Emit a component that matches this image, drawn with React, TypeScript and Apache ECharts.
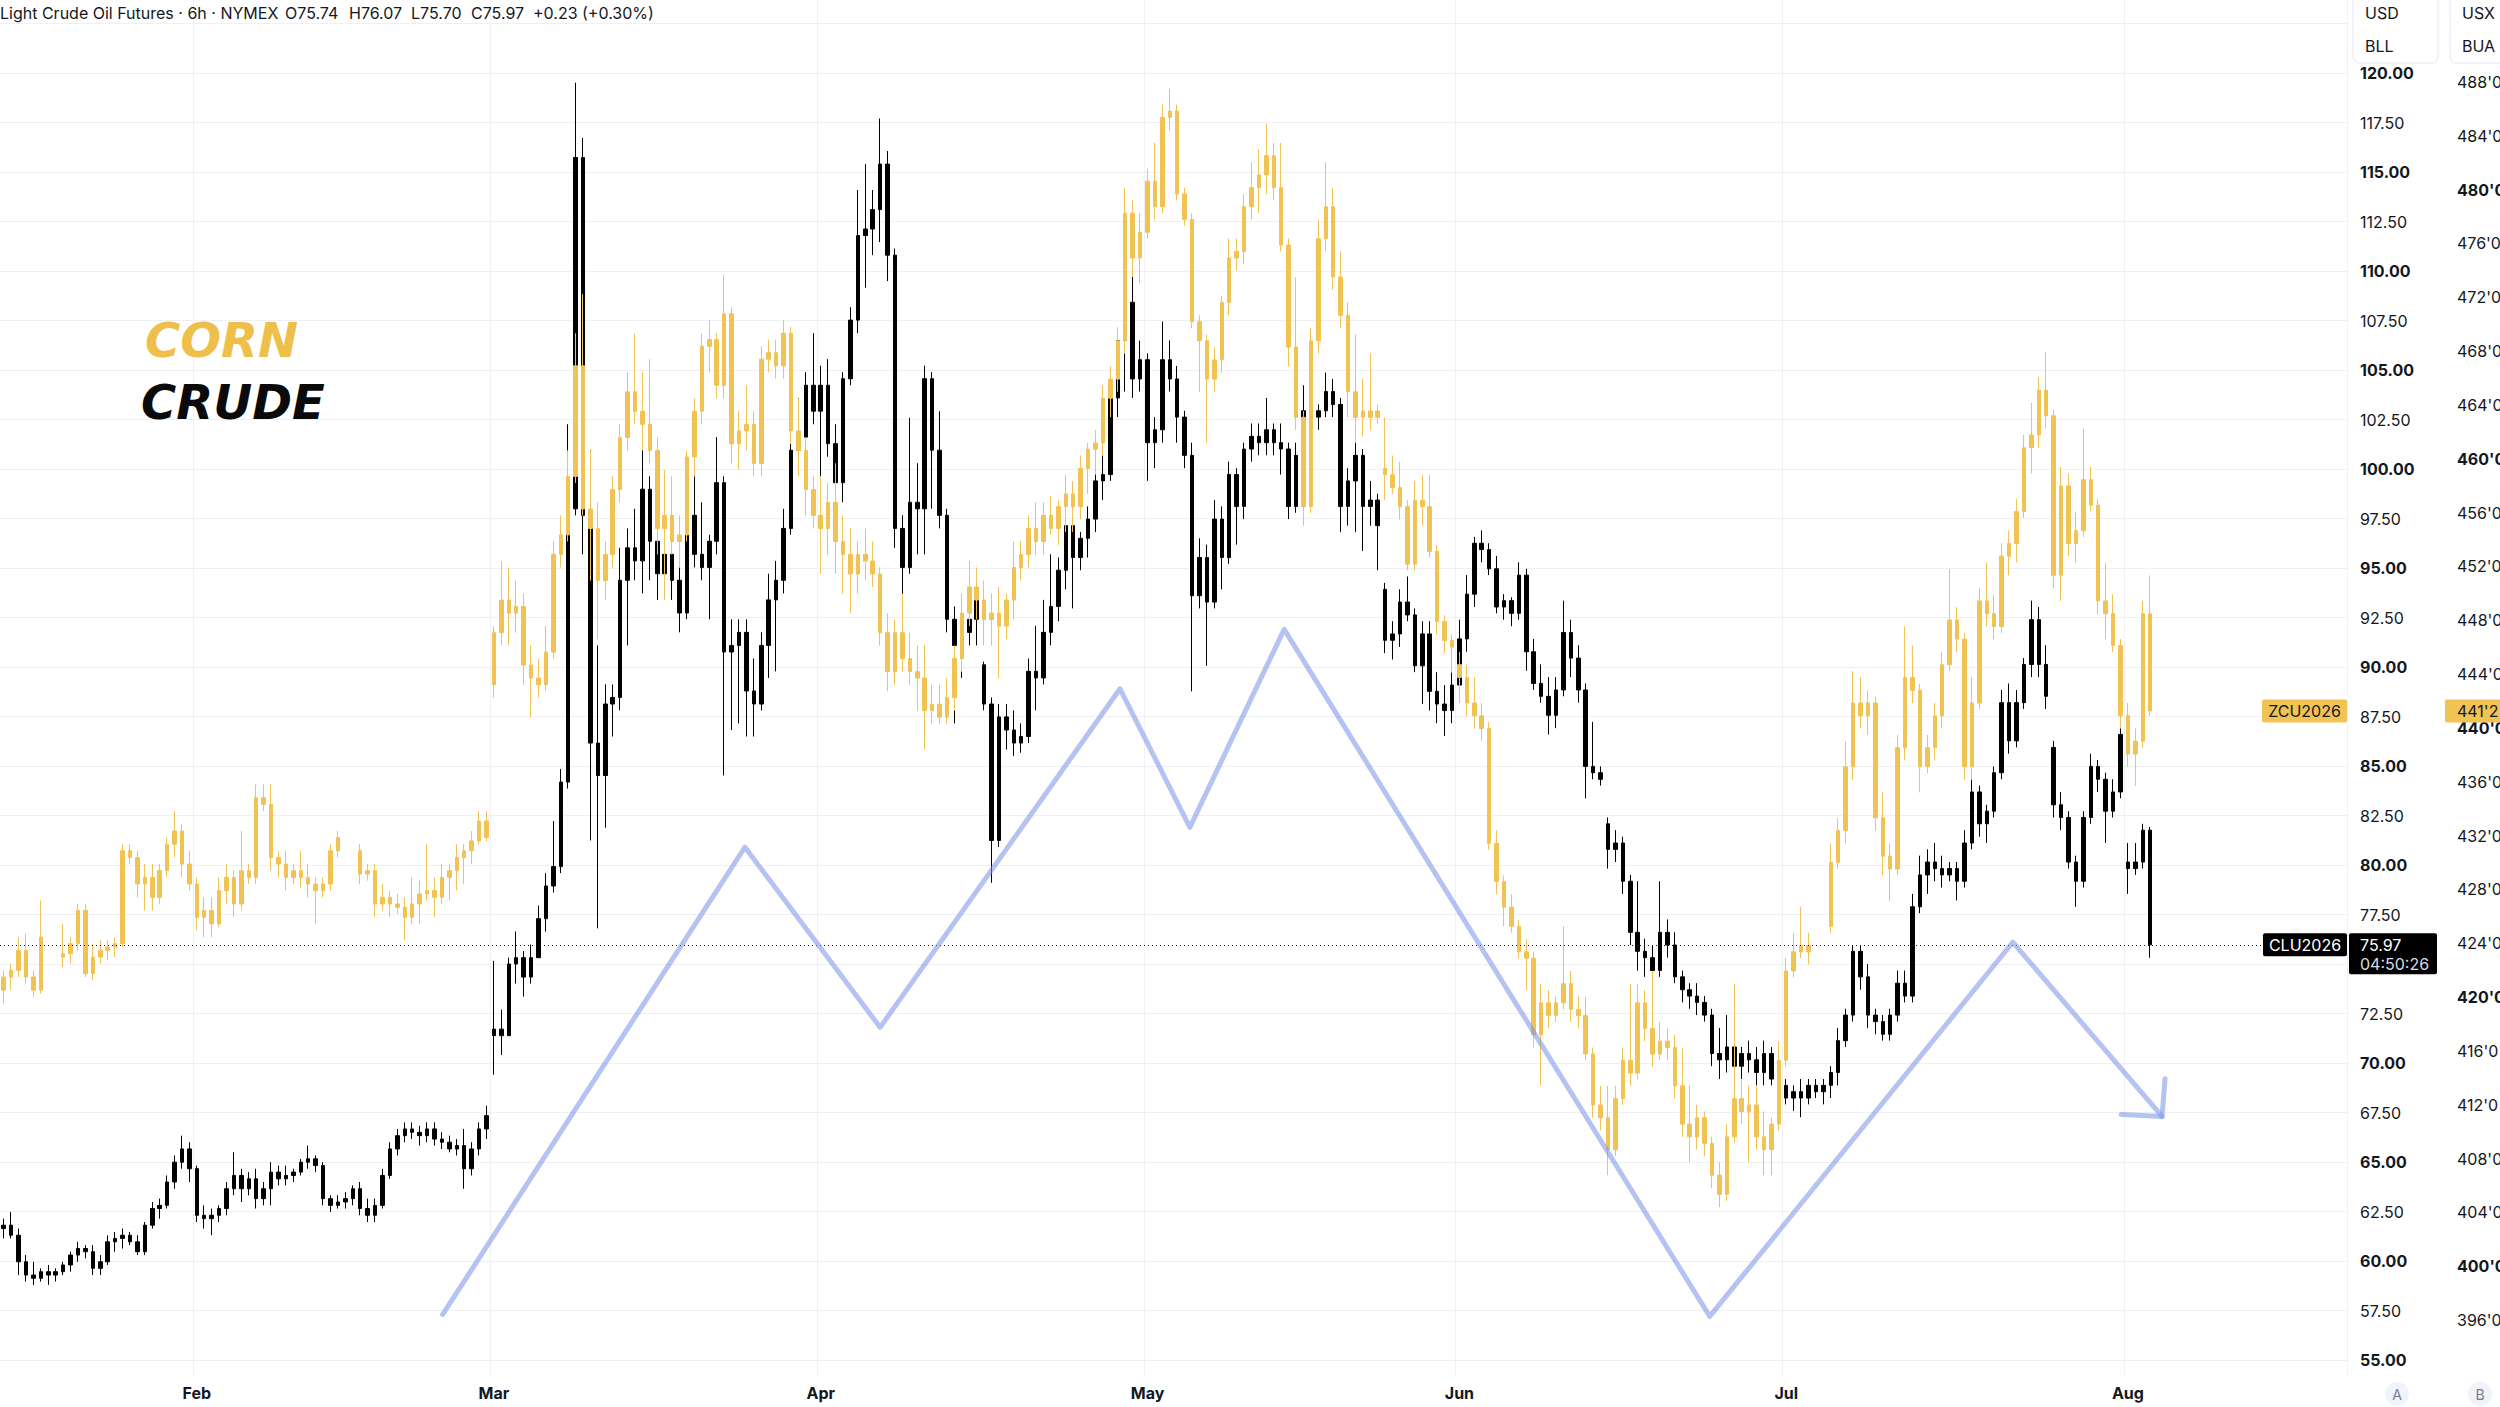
import React, { useEffect, useRef } from "react";
import * as echarts from "echarts";

// ---------- DATA (6h-ish candles, two per trading day: [open, close, low, high]) ----------
const crudeJan = [
  [61.64,61.81,61.14,62.14],[61.81,61.30,61.14,62.48],
  [61.30,59.96,59.29,61.64],[59.96,59.29,58.96,60.30],
  [59.29,59.13,58.79,59.96],[59.13,59.46,58.96,59.63],
  [59.46,59.29,58.79,59.80],[59.29,59.46,58.96,59.63],
  [59.46,59.80,59.29,59.96],[59.80,60.30,59.46,60.47],
  [60.30,60.63,59.96,60.97],[60.63,60.47,60.13,60.80],
  [60.47,59.63,59.29,60.80],[59.63,59.96,59.29,60.30],
  [59.96,60.97,59.80,61.30],[60.97,61.14,60.47,61.47],
  [61.14,61.30,60.63,61.64],[61.30,60.97,60.80,61.47],
  [60.97,60.47,60.30,61.30],[60.47,61.81,60.30,61.97],
  [61.81,62.65,61.64,62.98],[62.65,62.81,62.14,63.15],
  [62.81,63.99,62.65,64.32],[63.99,64.99,63.65,65.33],
  [64.99,65.66,64.66,66.33],[65.66,64.66,63.99,66.00]
];
const crudeFeb = [
  [64.66,62.31,61.97,64.82],[62.31,62.14,61.64,62.81],
  [62.14,62.31,61.30,62.65],[62.31,62.65,61.97,62.81],
  [62.65,63.65,62.31,63.99],[63.65,64.32,63.32,65.49],
  [64.32,63.65,62.98,64.66],[63.65,64.15,63.32,64.49],
  [64.15,63.15,62.65,64.66],[63.15,63.65,62.81,63.99],
  [63.65,64.49,62.81,64.99],[64.49,64.15,63.82,64.82],
  [64.15,64.32,63.82,64.82],[64.32,64.49,63.99,64.66],
  [64.49,64.99,64.32,65.16],[64.99,65.16,64.66,65.83],
  [65.16,64.82,64.49,65.33],[64.82,63.15,62.81,64.99],
  [63.15,62.81,62.48,63.32],[62.81,62.98,62.65,63.32],
  [62.98,63.15,62.65,63.48],[63.15,63.65,62.81,63.82],
  [63.65,62.65,62.31,63.99],[62.65,62.31,61.97,63.15],
  [62.31,62.81,61.97,63.15],[62.81,64.32,62.65,64.66],
  [64.32,65.66,64.15,66.00],[65.66,66.33,65.33,66.67],
  [66.33,66.67,66.00,67.00],[66.67,66.50,66.16,67.00],
  [66.50,66.33,65.83,66.83],[66.33,66.67,66.00,67.00],
  [66.67,66.16,65.83,67.00],[66.16,66.00,65.66,66.50],
  [66.00,65.66,65.49,66.33],[65.66,65.83,65.33,66.16],
  [65.83,64.66,63.65,66.67],[64.66,65.66,64.32,66.00],
  [65.66,66.67,65.33,67.00],[66.67,67.34,66.16,67.84]
];
const crudeMar = [
  [71.38,71.71,69.41,75.16],[71.71,71.38,70.40,72.70],
  [71.38,75.00,71.38,75.32],[75.00,75.32,74.01,76.64],
  [75.32,74.34,73.35,75.65],[74.34,75.32,74.01,75.98],
  [75.32,77.29,75.32,77.95],[77.29,78.94,76.64,79.59],
  [78.94,79.92,78.61,82.22],[79.92,84.19,79.59,84.85],
  [84.19,97.99,83.86,102.26],[97.99,115.73,97.66,119.51],
  [115.73,97.66,95.69,116.72],[97.66,86.16,81.24,100.95],
  [86.16,84.52,76.80,91.09],[84.52,88.13,81.89,89.12],
  [88.13,88.46,86.49,89.12],[88.46,94.38,87.81,96.02],
  [94.38,96.02,91.09,97.00],[96.02,95.36,94.38,97.99],
  [95.36,98.98,93.72,100.95],[98.98,96.35,94.38,99.63],
  [96.35,94.71,93.39,99.31],[94.71,95.69,93.39,97.00],
  [95.69,94.38,93.39,96.68],[94.38,92.73,91.75,95.03],
  [92.73,97.66,92.41,97.99],[97.66,95.69,95.03,99.63],
  [95.69,95.03,94.38,98.32],[95.03,96.35,92.41,96.68],
  [96.35,99.31,95.69,101.61],[99.31,90.76,84.52,99.63],
  [90.76,91.09,86.82,92.41],[91.09,91.75,87.15,92.41],
  [91.75,88.79,86.49,92.41],[88.79,88.13,86.49,90.43],
  [88.13,91.09,87.81,91.75],[91.09,93.39,89.45,94.71],
  [93.39,94.38,89.78,95.36],[94.38,97.00,93.72,97.99],
  [97.00,100.95,96.68,101.28],[100.95,101.61,100.29,103.58],
  [101.61,104.23,100.95,104.89],[104.23,102.92,102.26,106.86]
];
const crudeApr = [
  [102.92,104.23,99.63,105.22],[104.23,101.28,100.62,105.55],
  [101.28,99.31,97.66,102.26],[99.31,104.56,98.32,104.89],
  [104.56,107.52,104.23,108.17],[107.52,111.79,106.86,114.09],
  [111.79,112.12,109.16,115.40],[112.12,113.10,110.80,114.09],
  [113.10,115.40,111.46,117.70],[115.40,110.80,109.49,116.06],
  [110.80,97.00,96.02,111.13],[97.00,95.03,92.08,97.66],
  [95.03,98.32,94.71,102.59],[98.32,97.99,95.69,100.29],
  [97.99,104.56,95.69,105.22],[104.56,100.95,97.99,104.89],
  [100.95,97.66,97.00,102.92],[97.66,92.41,91.75,97.99],
  [92.41,91.09,87.15,93.06],[91.09,91.75,89.45,92.41],
  [91.75,92.41,91.09,93.06],[92.41,93.39,91.09,93.72],
  [90.11,88.13,87.81,90.27],[88.13,81.24,79.10,88.46],
  [81.24,87.48,80.91,88.13],[87.48,86.82,85.83,88.13],
  [86.82,86.16,85.51,87.81],[86.16,86.49,85.67,87.15],
  [86.49,89.78,86.16,90.43],[89.78,89.45,87.81,92.08],
  [89.45,91.75,89.12,93.39],[91.75,93.06,91.09,95.69],
  [93.06,94.89,92.31,95.53],[94.89,97.14,93.92,98.11],
  [97.14,95.53,92.96,98.11],[95.53,96.50,94.89,96.82],
  [96.50,97.47,95.53,98.11],[97.47,99.40,96.82,100.04],
  [99.40,99.72,98.43,100.69],[99.72,103.59,99.40,104.55],
  [103.59,106.49,102.62,107.13],[106.49,108.42,103.91,110.99],
  [108.42,104.55,103.59,109.71],[104.55,105.52,103.91,106.49]
];
const crudeMay = [
  [105.52,101.33,99.40,105.84],[101.33,101.98,100.04,102.62],
  [101.98,105.52,101.33,107.45],[105.52,104.55,103.91,106.49],
  [104.55,102.62,101.33,105.20],[102.62,100.69,100.04,102.94],
  [100.69,93.60,88.77,101.33],[93.60,95.53,92.96,96.50],
  [95.53,93.28,90.06,96.18],[93.28,97.47,92.96,98.43],
  [97.47,95.53,93.92,98.11],[95.53,99.72,95.21,100.37],
  [99.72,98.11,96.18,100.04],[98.11,101.01,97.47,101.33],
  [101.01,101.65,100.37,102.30],[101.65,101.33,100.69,102.30],
  [101.33,101.98,100.69,103.59],[101.98,101.33,100.69,102.30],
  [101.33,101.01,99.72,102.30],[101.01,98.11,97.47,101.33],
  [98.11,100.69,97.79,101.33],[100.69,102.94,100.04,104.23],
  [102.94,102.62,98.43,103.91],[102.62,102.94,101.98,103.26],
  [102.94,103.91,102.62,104.87],[103.91,103.26,102.62,104.55],
  [103.26,98.11,96.82,103.59],[98.11,99.40,97.14,100.04],
  [99.40,100.69,96.82,102.62],[100.69,98.11,95.86,101.01],
  [98.11,98.43,97.14,99.40],[98.43,97.14,94.89,98.75],
  [93.92,91.35,90.70,94.25],[91.35,91.67,90.38,92.31],
  [91.67,93.28,91.02,93.92],[93.28,92.63,92.31,94.57],
  [92.63,90.06,89.74,92.96],[90.06,91.67,88.13,92.31],
  [91.67,88.77,87.80,92.31],[88.77,88.13,87.16,89.74],
  [88.13,87.80,86.51,89.09],[87.80,89.09,87.16,90.06]
];
const crudeJun = [
  [89.09,91.42,88.20,92.39],[91.42,93.68,90.77,94.64],
  [93.68,96.25,93.03,96.57],[96.25,95.93,95.29,96.90],
  [95.93,94.96,94.64,96.25],[94.96,93.03,92.71,95.61],
  [93.03,93.35,92.39,93.68],[93.35,92.71,92.06,93.52],
  [92.71,94.64,92.39,95.29],[94.64,90.77,89.81,94.96],
  [90.77,89.17,88.84,91.42],[89.17,88.52,88.20,90.13],
  [88.52,87.56,86.59,89.49],[87.56,88.84,86.91,89.49],
  [88.84,91.74,88.52,93.35],[91.74,90.45,89.49,92.39],
  [90.45,88.84,88.20,91.10],[88.84,84.98,83.37,89.17],
  [84.98,84.66,84.33,87.23],[84.66,84.33,84.01,84.98],
  [82.08,80.79,79.82,82.40],[80.79,81.11,80.15,81.76],
  [81.11,79.18,78.54,81.43],[79.18,76.60,75.96,79.50],
  [76.60,75.64,74.67,79.18],[75.64,75.32,74.35,76.28],
  [75.32,74.67,73.70,75.96],[74.67,76.60,74.35,79.18],
  [76.60,75.96,75.32,77.25],[75.96,74.35,74.03,76.60],
  [74.35,73.70,73.06,74.67],[73.70,73.38,72.74,74.03],
  [73.38,73.06,72.42,74.03],[73.06,72.42,72.09,73.38],
  [72.42,70.48,69.84,72.74],[70.48,70.16,69.19,71.77],
  [70.16,70.81,69.52,72.42],[70.81,69.84,69.19,71.45],
  [69.84,70.48,69.19,70.81],[70.48,70.16,69.52,71.13],
  [70.16,69.52,68.87,70.81],[69.52,70.48,68.87,71.13],
  [70.48,69.19,68.87,70.81],[69.19,68.87,68.55,69.52]
];
const crudeJul = [
  [68.87,68.23,67.91,69.19],[68.23,68.55,67.58,68.87],
  [68.55,68.23,67.26,69.19],[68.23,68.87,67.91,69.19],
  [68.87,68.55,68.23,69.19],[68.55,68.87,67.91,69.19],
  [68.87,69.52,68.23,69.84],[69.52,71.13,68.87,71.77],
  [71.13,72.42,70.81,72.74],[72.42,75.64,72.09,75.96],
  [75.64,74.35,73.70,75.96],[74.35,72.42,71.77,74.99],
  [72.42,72.09,71.45,72.74],[72.09,71.45,71.13,72.42],
  [71.45,72.42,71.13,72.74],[72.42,74.03,72.09,74.67],
  [74.03,73.38,73.06,74.67],[73.38,77.89,73.06,78.54],
  [77.89,79.50,77.57,80.47],[79.50,80.15,78.54,80.79],
  [80.15,79.82,79.18,81.11],[79.82,79.50,78.86,80.47],
  [79.50,79.82,79.18,80.15],[79.82,79.18,78.21,80.15],
  [79.18,81.11,78.86,81.76],[81.11,83.69,80.79,84.33],
  [83.69,82.08,81.43,84.01],[82.08,82.72,81.11,83.04],
  [82.72,84.66,82.40,84.98],[84.66,88.20,84.33,88.84],
  [88.20,86.27,85.62,89.17],[86.27,88.20,85.94,88.84],
  [88.20,90.13,87.88,90.45],[90.13,92.39,89.49,93.35],
  [92.39,90.13,89.49,93.03],[90.13,88.52,87.88,91.10],
  [85.94,83.04,82.40,86.27],[83.04,82.40,81.76,83.69],
  [82.40,80.15,79.82,82.72],[80.15,79.18,77.89,80.47],
  [79.18,82.40,78.86,82.72],[82.40,84.98,82.08,85.62],
  [84.98,84.33,83.69,85.30],[84.33,82.72,81.11,84.66],
  [82.72,83.69,82.40,84.33],[83.69,86.59,83.37,86.91]
];
const crudeAug = [
  [80.15,79.82,78.54,81.11],[79.82,80.15,79.50,81.11],
  [80.15,81.76,79.82,82.08],[81.76,75.97,75.32,81.92]
];

const NA = ["-", "-", "-", "-"];
const cornJan = [
  [420.51,421.49,419.52,421.99],[421.49,421.99,420.51,422.48],
  [421.99,423.47,421.49,424.45],[423.47,421.49,421.00,424.70],
  [421.49,420.51,420.02,421.99],[420.51,424.45,420.26,427.17],
  NA, NA,
  [422.97,423.22,422.23,425.44],[423.22,423.96,422.48,424.45],
  [423.96,426.43,423.47,426.92],[426.43,421.74,421.49,426.92],
  [421.74,422.97,421.25,423.96],[422.97,423.47,422.48,424.21],
  [423.47,423.71,422.73,424.21],[423.71,423.96,422.97,424.45],
  [423.96,430.87,423.71,431.36],[430.87,430.37,429.88,431.36],
  [430.37,428.40,427.41,430.87],[428.40,428.89,426.43,429.88],
  [428.89,427.41,426.43,429.88],[427.41,429.39,426.92,429.88],
  [429.39,431.36,428.89,431.85],[431.36,432.34,430.37,433.82],
  [432.34,429.88,428.89,432.84],[429.88,428.40,427.91,430.87]
];
const cornFeb = [
  [428.40,425.93,424.95,428.89],[425.93,426.43,424.45,427.41],
  [426.43,425.44,424.45,427.41],[425.44,427.91,425.19,428.89],
  [427.91,428.89,426.92,429.88],[428.89,426.92,425.93,429.39],
  [426.92,429.39,426.43,432.34],[429.39,428.89,428.40,429.88],
  [428.89,434.81,428.40,435.80],[434.81,434.32,433.82,435.80],
  [434.32,430.37,429.39,435.80],[430.37,429.88,428.89,430.87],
  [429.88,428.89,427.91,430.87],[428.89,429.39,428.40,429.88],
  [429.39,428.89,428.15,430.87],[428.89,428.40,427.41,429.88],
  [428.40,427.91,425.44,428.89],[427.91,428.40,427.41,428.89],
  [428.40,430.87,427.91,431.36],[430.87,431.85,430.37,432.34],
  NA, NA,
  [430.87,429.14,428.40,431.36],[429.14,429.39,428.65,429.88],
  [429.39,426.92,425.93,429.88],[426.92,427.41,426.43,428.40],
  [427.41,426.92,425.93,427.91],[426.92,426.67,426.18,427.66],
  [426.67,425.93,424.21,427.41],[425.93,426.92,425.44,428.89],
  [426.92,427.66,425.44,428.65],[427.66,427.91,427.17,431.36],
  [427.91,427.41,425.93,428.89],[427.41,428.89,426.92,429.88],
  [428.89,429.39,427.17,429.88],[429.39,430.37,427.91,431.36],
  [430.37,430.87,428.40,431.36],[430.87,431.60,429.88,432.34],
  [431.60,433.08,431.36,433.82],[433.08,431.85,431.60,433.82]
];
const cornMar = [
  [443.21,447.08,442.25,447.57],[447.08,449.50,446.12,452.40],
  [449.50,448.53,446.12,451.92],[448.53,449.02,447.08,450.95],
  [449.02,444.67,443.21,449.98],[444.67,443.70,440.80,446.12],
  [443.70,443.21,442.25,445.15],[443.21,445.63,442.73,447.57],
  [445.63,452.89,445.15,453.85],[452.89,454.34,451.92,455.79],
  [454.34,458.69,453.85,460.62],[458.69,466.91,458.21,469.33],
  [466.91,456.27,455.79,472.23],[456.27,454.82,450.95,460.62],
  [454.82,450.95,446.60,456.76],[450.95,452.89,449.50,453.85],
  [452.89,457.72,451.92,458.69],[457.72,461.59,456.76,462.56],
  [461.59,464.98,460.62,466.43],[464.98,463.53,462.56,469.33],
  [463.53,462.56,460.62,466.43],[462.56,460.62,459.66,467.40],
  [460.62,454.82,452.89,461.59],[454.82,455.79,449.50,459.17],
  [455.79,453.85,452.89,458.69],[453.85,454.34,451.92,455.79],
  [454.34,460.14,453.85,460.62],[460.14,463.53,458.69,464.49],
  [463.53,468.36,462.56,469.33],[468.36,468.85,466.43,470.30],
  [468.85,465.46,464.49,469.33],[465.46,470.78,464.49,473.68],
  [470.78,461.11,459.66,471.26],[461.11,462.07,459.17,463.53],
  [462.07,462.56,460.62,465.46],[462.56,459.66,458.69,463.53],
  [459.66,467.40,458.69,468.36],[467.40,467.88,466.43,468.85],
  [467.88,466.91,465.94,468.85],[466.91,469.33,465.94,470.30],
  [469.33,462.07,461.11,469.81],[462.07,460.62,458.69,464.49],
  [460.62,457.72,455.79,461.59],[457.72,455.79,454.82,458.69]
];
const cornApr = [
  [455.79,454.82,451.44,458.69],[454.82,456.76,452.89,458.21],
  [456.76,453.85,451.44,459.66],[453.85,452.89,449.98,455.79],
  [452.89,451.44,448.53,454.82],[451.44,452.89,449.98,453.85],
  [452.89,452.40,450.95,454.82],[452.40,451.44,450.47,453.85],
  [451.44,447.08,446.12,451.92],[447.08,444.18,442.73,448.53],
  [444.18,447.08,443.21,448.05],[447.08,445.15,444.18,449.98],
  [445.15,444.18,443.21,447.08],[444.18,443.70,441.28,446.12],
  [443.70,441.28,438.38,446.12],[441.28,441.76,440.31,443.21],
  [441.76,440.80,440.31,443.21],[440.80,442.25,440.31,443.70],
  [442.25,445.15,441.28,446.12],[445.15,448.53,444.18,449.98],
  [448.53,450.47,447.57,452.40],[450.47,449.50,448.05,451.92],
  [449.50,448.05,446.12,450.95],[448.05,448.53,446.12,449.98],
  [448.53,447.57,443.70,450.47],[447.57,449.50,446.60,449.98],
  [449.50,451.92,448.05,453.85],[451.92,452.89,450.95,453.85],
  [452.89,454.82,451.92,455.79],[454.82,453.85,452.89,456.76],
  [453.85,455.79,452.89,456.76],[455.79,454.82,454.34,457.24],
  [454.82,456.44,453.60,456.92],[456.44,457.39,454.55,458.81],
  [457.39,456.44,454.55,458.34],[456.44,459.29,455.49,460.24],
  [459.29,460.71,457.39,461.18],[460.71,461.18,458.81,462.13],
  [461.18,464.50,460.24,465.45],[464.50,465.92,463.08,466.87],
  [465.92,468.77,464.98,469.72],[468.77,478.25,467.82,480.15],
  [478.25,474.93,473.51,479.20],[474.93,476.83,473.04,478.25]
];
const cornMay = [
  [476.83,480.63,476.36,481.57],[480.63,478.73,477.78,483.47],
  [478.73,485.37,478.25,486.32],[485.37,485.84,484.42,487.50],
  [485.84,479.68,479.20,486.32],[479.68,477.78,477.31,480.15],
  [477.78,470.19,469.72,478.25],[470.19,468.77,464.98,470.67],
  [468.77,465.92,461.18,469.24],[465.92,467.35,464.98,468.30],
  [467.35,471.62,466.40,472.09],[471.62,474.93,470.67,476.36],
  [474.93,475.41,473.99,476.36],[475.41,478.73,474.46,479.68],
  [478.73,480.15,477.78,482.05],[480.15,481.10,478.25,483.00],
  [481.10,482.52,479.68,484.89],[482.52,480.15,479.20,483.47],
  [480.15,475.88,475.41,483.47],[475.88,468.30,466.87,476.36],
  [468.30,463.08,462.13,473.51],[463.08,456.44,455.02,463.55],
  [456.44,468.77,455.97,469.72],[468.77,476.36,467.82,477.78],
  [476.36,478.73,475.41,482.05],[478.73,473.51,472.56,480.15],
  [473.51,470.67,469.72,475.41],[470.67,464.98,463.08,471.62],
  [464.98,463.08,461.18,469.24],[463.08,463.55,461.66,465.92],
  [463.55,463.08,462.13,467.82],[463.08,463.55,462.61,464.03],
  [459.29,458.81,456.92,463.08],[458.81,457.86,457.39,460.24],
  [457.86,456.44,455.49,459.76],[456.44,452.17,451.70,456.92],
  [452.17,456.92,451.70,458.34],[456.92,456.44,455.02,458.81],
  [456.44,453.12,452.65,458.81],[453.12,447.91,446.96,453.60],
  [447.91,446.49,445.54,448.38],[446.49,446.01,444.11,446.96]
];
const cornJun = [
  [444.70,443.75,441.85,445.65],[443.75,441.85,440.90,444.70],
  [441.85,440.90,439.96,443.75],[440.90,439.96,439.01,441.85],
  [439.96,431.42,430.95,440.43],[431.42,428.58,427.63,432.37],
  [428.58,426.68,425.26,429.05],[426.68,425.26,424.78,427.63],
  [425.26,423.36,422.89,425.73],[423.36,422.89,420.51,424.31],
  [422.89,417.20,416.25,423.36],[417.20,419.57,413.40,420.99],
  [419.57,418.62,417.67,420.51],[418.62,419.57,418.14,420.04],
  [419.57,420.99,419.09,425.26],[420.99,419.09,418.14,421.94],
  [419.09,418.62,417.67,420.04],[418.62,415.77,415.30,420.04],
  [415.77,411.98,411.03,416.25],[411.98,411.03,410.08,413.40],
  [411.03,408.66,406.76,413.40],[408.66,412.45,408.18,413.40],
  [412.45,415.30,411.98,416.25],[415.30,414.35,413.40,420.99],
  [414.35,419.57,413.87,420.99],[419.57,417.67,416.72,420.51],
  [417.67,415.77,414.82,421.94],[415.77,416.72,415.30,418.14],
  [416.72,416.25,415.30,417.67],[416.25,413.40,412.45,417.20],
  [413.40,410.56,409.61,416.25],[410.56,409.61,407.71,413.40],
  [409.61,411.03,408.66,411.98],[411.03,409.13,408.18,411.50],
  [409.13,406.76,405.81,409.61],[406.76,405.34,404.39,407.71],
  [405.34,409.61,404.86,410.56],[409.61,412.45,409.13,420.99],
  [412.45,411.50,410.56,413.87],[411.50,411.98,407.71,413.40],
  [411.98,409.61,408.66,413.40],[409.61,408.66,406.76,411.50],
  [408.66,410.56,406.76,411.03],[410.56,415.30,410.08,416.72]
];
const cornJul = [
  [415.30,421.94,414.82,422.89],[421.94,423.36,421.46,424.78],
  [423.36,423.83,422.89,426.68],[423.83,423.36,422.41,424.78],
  NA, NA,
  [425.26,430.00,424.78,431.42],[430.00,432.37,429.52,433.32],
  [432.37,437.11,431.42,439.01],[437.11,441.85,436.16,444.22],
  [441.85,440.90,439.96,443.75],[440.90,441.85,439.48,442.80],
  [441.85,433.32,432.37,442.33],[433.32,430.47,429.05,435.21],
  [430.47,429.52,427.15,431.42],[429.52,438.53,429.05,439.48],
  [438.53,443.75,437.59,447.54],[443.75,442.80,441.85,446.12],
  [442.80,437.11,435.21,443.28],[437.11,438.53,436.64,439.48],
  [438.53,440.90,437.59,441.85],[440.90,444.70,439.96,445.65],
  [444.70,448.02,444.22,451.81],[448.02,446.60,445.65,448.97],
  [446.60,437.11,436.16,447.07],[437.11,441.85,436.16,443.75],
  [441.85,449.44,441.38,450.39],[449.44,448.49,447.54,452.29],
  [448.49,447.54,446.60,449.91],[447.54,452.76,447.07,453.71],
  [452.76,453.71,451.34,454.66],[453.71,456.08,452.29,457.03],
  [456.08,460.82,455.60,461.77],[460.82,461.77,458.92,464.14],
  [461.77,465.09,460.82,466.04],[465.09,463.19,462.24,467.93],
  [463.19,451.34,450.39,463.67],[451.34,457.98,449.44,459.40],
  [457.98,453.71,452.76,458.92],[453.71,454.66,452.29,456.08],
  [454.66,458.45,454.18,462.24],[458.45,456.55,456.08,459.40],
  [456.55,449.44,448.49,457.03],[449.44,448.49,446.60,452.29],
  [448.49,446.12,445.65,449.91],[446.12,440.90,439.96,446.60]
];
const cornAug = [
  [440.90,438.06,437.11,441.85],[438.06,439.01,435.69,439.96],
  [439.01,448.49,438.53,449.44],[448.49,441.25,440.90,451.34]
];

// Hand-drawn zigzag annotation: [slot position, crude price]
const zigzagPoints = [
  [59.6, 57.3], [100.3, 80.9], [118.5, 71.8], [150.8, 88.9], [160.2, 81.9],
  [172.9, 91.9], [230.2, 57.2], [271.0, 76.1], [291.1, 67.3]
];
const arrowHeadPoints = [[291.5, 69.2], [291.1, 67.3], [285.6, 67.4]];

const crudeAxis = { min: 55, max: 122.5, step: 2.5 };
const cornAxis = { min: 396, max: 488, step: 4 };
const crudeLast = 75.97;
const cornLast = 441.25;
const cornLastLabel = "441'2";
const countdown = "04:50:26";
const headerParts = [
  { text: "Light Crude Oil Futures · 6h · NYMEX", x: 0 },
  { text: "O75.74", x: 285 },
  { text: "H76.07", x: 349 },
  { text: "L75.70", x: 411 },
  { text: "C75.97", x: 471 },
  { text: "+0.23 (+0.30%)", x: 533 }
];
const MONTHS = ["Jan", "Feb", "Mar", "Apr", "May", "Jun", "Jul", "Aug", "Sep", "Oct", "Nov", "Dec"];
const FIRST_DAY = Date.UTC(2026, 0, 14);
const SLOT_DAYS = 158; // trading days shown incl. blank space on the right

// ---------- layout ----------
const CHART_W = 2520;
const CHART_H = 1407;
const PLOT_W = 2347;
const FONT = 'Inter, "Noto Sans", Roboto, sans-serif';
const GOLD = "#F0C352";
const INK = "#131722";

function buildSlots() {
  const cats: string[] = [];
  const labels: Record<number, string> = {};
  let t = FIRST_DAY;
  let prevMonth = -1;
  let day = 0;
  while (day < SLOT_DAYS) {
    const d = new Date(t);
    const wd = d.getUTCDay();
    if (wd !== 0 && wd !== 6) {
      const iso = d.toISOString().slice(0, 10);
      const m = d.getUTCMonth();
      if (prevMonth !== -1 && m !== prevMonth) labels[cats.length] = MONTHS[m];
      prevMonth = m;
      cats.push(iso + " A", iso + " B");
      day++;
    }
    t += 86400000;
  }
  return { cats, labels };
}

export default function App() {
  const ref = useRef<HTMLDivElement>(null);
  useEffect(() => {
    if (!ref.current) return;
    const chart = echarts.init(ref.current, undefined, { renderer: "svg" });
    const { cats, labels } = buildSlots();
    const crude = [...crudeJan, ...crudeFeb, ...crudeMar, ...crudeApr, ...crudeMay, ...crudeJun, ...crudeJul, ...crudeAug];
    const corn = [...cornJan, ...cornFeb, ...cornMar, ...cornApr, ...cornMay, ...cornJun, ...cornJul, ...cornAug];
    const isLabel = (i: number) => labels[i] !== undefined;
    const labelStyle = { fontFamily: FONT, fontSize: 16, color: INK };

    const crudeTop = 73 - 49.5; // 122.5 line
    const crudeH = 1360 - crudeTop;
    const cornTop = 82;
    const cornH = 1320 - 82;

    chart.setOption({
      animation: false,
      backgroundColor: "#ffffff",
      grid: [
        { left: 0, top: 0, width: PLOT_W, height: 1375 },
        { left: 0, top: crudeTop, width: PLOT_W, height: crudeH },
        { left: 0, top: cornTop, width: PLOT_W, height: cornH }
      ],
      xAxis: [
        {
          type: "category", gridIndex: 0, data: cats, boundaryGap: true,
          axisLine: { show: false }, axisTick: { show: false },
          axisLabel: {
            interval: (i: number) => isLabel(i),
            formatter: (_v: string, i: number) => labels[i] || "",
            margin: 10, fontFamily: FONT, fontSize: 16, fontWeight: "bold", color: INK
          },
          splitLine: { show: true, interval: (i: number) => isLabel(i), lineStyle: { color: "#eff1f5", width: 1 } }
        },
        { type: "category", gridIndex: 1, data: cats, boundaryGap: true, show: false },
        { type: "category", gridIndex: 2, data: cats, boundaryGap: true, show: false },
        { type: "value", gridIndex: 1, min: 0, max: cats.length, show: false }
      ],
      yAxis: [
        { type: "value", gridIndex: 0, min: 0, max: 1, show: false },
        {
          type: "value", gridIndex: 1, position: "right", min: crudeAxis.min, max: crudeAxis.max, interval: crudeAxis.step,
          axisLine: { show: false }, axisTick: { show: false },
          splitLine: { show: true, lineStyle: { color: "#eef0f4", width: 1 } },
          axisLabel: {
            margin: 13, align: "left", showMaxLabel: false,
            formatter: (v: number) => {
              // the label hidden under the last-price badge
              if (Math.abs(v - crudeLast) < 1.2) return "";
              const s = v.toFixed(2);
              return Math.round(v * 100) % 500 === 0 ? "{b|" + s + "}" : "{r|" + s + "}";
            },
            rich: { b: { ...labelStyle, fontWeight: "bold" }, r: { ...labelStyle } }
          }
        },
        {
          type: "value", gridIndex: 2, position: "right", offset: 97, min: cornAxis.min, max: cornAxis.max, interval: cornAxis.step,
          axisLine: { show: false }, axisTick: { show: false }, splitLine: { show: false },
          axisLabel: {
            margin: 13, align: "left",
            formatter: (v: number) => (v % 20 === 0 ? "{b|" + v + "'0}" : "{r|" + v + "'0}"),
            rich: { b: { ...labelStyle, fontWeight: "bold" }, r: { ...labelStyle } }
          }
        }
      ],
      series: [
        {
          type: "candlestick", name: "CLU2026", xAxisIndex: 1, yAxisIndex: 1, data: crude, barWidth: 4, z: 2,
          itemStyle: { color: "#000", color0: "#000", borderColor: "#000", borderColor0: "#000", borderWidth: 1 },
          markLine: {
            silent: true, symbol: ["none", "none"], label: { show: false },
            lineStyle: { color: INK, type: [1, 3], width: 1 },
            data: [{ yAxis: crudeLast }]
          }
        },
        {
          type: "candlestick", name: "ZCU2026", xAxisIndex: 2, yAxisIndex: 2, data: corn, barWidth: 4, z: 3,
          itemStyle: { color: GOLD, color0: GOLD, borderColor: GOLD, borderColor0: GOLD, borderWidth: 1 }
        },
        {
          type: "line", xAxisIndex: 3, yAxisIndex: 1, data: zigzagPoints, showSymbol: false, z: 5, silent: true,
          lineStyle: { color: "rgba(120,145,232,0.55)", width: 5, cap: "round", join: "round" }
        },
        {
          type: "line", xAxisIndex: 3, yAxisIndex: 1, data: arrowHeadPoints, showSymbol: false, z: 5, silent: true,
          lineStyle: { color: "rgba(120,145,232,0.55)", width: 5, cap: "round", join: "round" }
        }
      ]
    });

    const yCrude = chart.convertToPixel({ yAxisIndex: 1 }, crudeLast) as number;
    const yCorn = chart.convertToPixel({ yAxisIndex: 2 }, cornLast) as number;
    const txt = (x: number, y: number, text: string, extra: any = {}) => ({
      type: "text", x, y, z: 100,
      style: { text, fill: INK, fontFamily: FONT, fontSize: 16, align: "left", verticalAlign: "middle", ...extra }
    });

    const graphic: any[] = [];
    headerParts.forEach((p) => graphic.push(txt(p.x, 13, p.text)));
    graphic.push(txt(145, 340, "CORN", { fill: "#EEBF4B", fontFamily: '"DejaVu Sans", sans-serif', fontSize: 48, fontWeight: "bold", fontStyle: "italic" }));
    graphic.push(txt(141, 402, "CRUDE", { fill: "#0a0a0a", fontFamily: '"DejaVu Sans", sans-serif', fontSize: 48, fontWeight: "bold", fontStyle: "italic" }));
    // corn badges
    graphic.push({ type: "rect", z: 100, shape: { x: 2262, y: yCorn - 11.5, width: 85, height: 23, r: 2 }, style: { fill: GOLD } });
    graphic.push(txt(2304.5, yCorn, "ZCU2026", { align: "center" }));
    graphic.push({ type: "rect", z: 100, shape: { x: 2445, y: yCorn - 11.5, width: 80, height: 23, r: 2 }, style: { fill: GOLD } });
    graphic.push(txt(2457, yCorn, cornLastLabel));
    // crude badges
    graphic.push({ type: "rect", z: 100, shape: { x: 2263, y: yCrude - 11.5, width: 84, height: 23, r: 2 }, style: { fill: "#000" } });
    graphic.push(txt(2305, yCrude, "CLU2026", { align: "center", fill: "#fff" }));
    graphic.push({ type: "rect", z: 100, shape: { x: 2349, y: yCrude - 11.5, width: 88, height: 41, r: 2 }, style: { fill: "#000" } });
    graphic.push(txt(2360, yCrude, crudeLast.toFixed(2), { fill: "#fff" }));
    graphic.push(txt(2360, yCrude + 19, countdown, { fill: "#d8dbe2" }));
    // currency / unit boxes
    graphic.push({ type: "rect", z: 100, shape: { x: 2353, y: -8, width: 85, height: 71, r: 6 }, style: { fill: "#fff", stroke: "#e6e8ee", lineWidth: 1 } });
    graphic.push(txt(2365, 13, "USD"));
    graphic.push(txt(2365, 46, "BLL"));
    graphic.push({ type: "rect", z: 100, shape: { x: 2450, y: -8, width: 85, height: 71, r: 6 }, style: { fill: "#fff", stroke: "#e6e8ee", lineWidth: 1 } });
    graphic.push(txt(2462, 13, "USX"));
    graphic.push(txt(2462, 46, "BUA"));
    // A / B buttons
    graphic.push({ type: "circle", z: 100, shape: { cx: 2397, cy: 1394, r: 12 }, style: { fill: "#f0f3fa" } });
    graphic.push(txt(2397, 1394, "A", { align: "center", fill: "#787b86", fontSize: 14 }));
    graphic.push({ type: "circle", z: 100, shape: { cx: 2480, cy: 1394, r: 12 }, style: { fill: "#f0f3fa" } });
    graphic.push(txt(2480, 1394, "B", { align: "center", fill: "#787b86", fontSize: 14 }));

    chart.setOption({ graphic });
    return () => chart.dispose();
  }, []);

  return (
    <div style={{ position: "fixed", left: 0, top: 0, width: 2500, height: 1407, overflow: "hidden", background: "#fff" }}>
      <div ref={ref} style={{ width: CHART_W, height: CHART_H }} />
    </div>
  );
}
